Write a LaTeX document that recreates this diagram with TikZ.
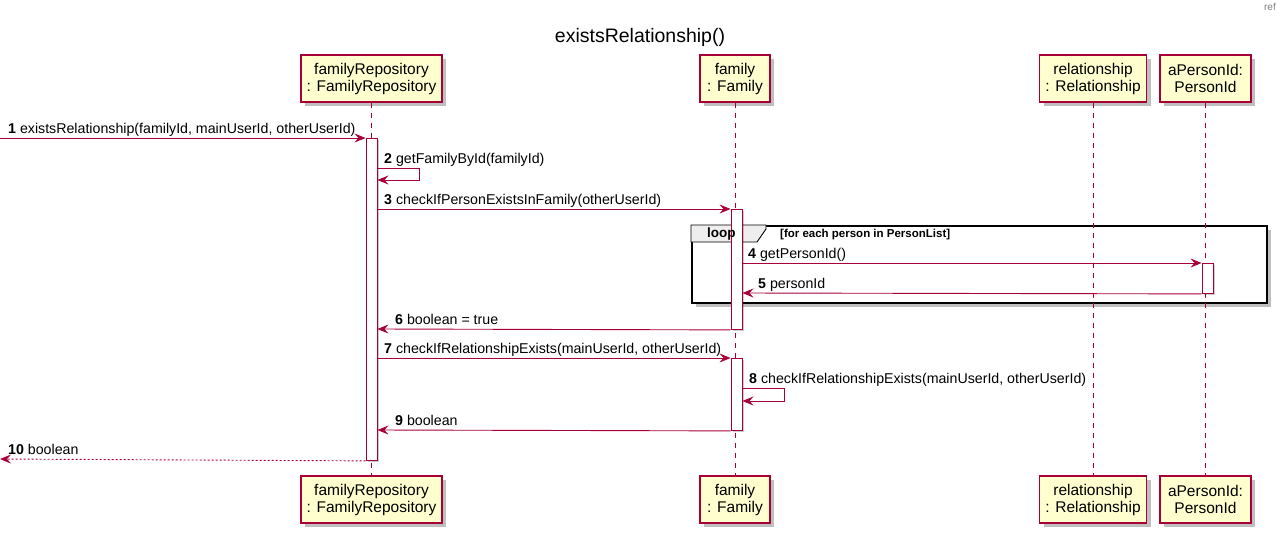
\documentclass[tikz,border=0pt]{standalone}
\usepackage{fontspec}
\setmainfont{Liberation Sans}
\usetikzlibrary{arrows.meta,shadows,calc}
\definecolor{plred}{HTML}{A80036}
\definecolor{plfill}{HTML}{FEFECE}
\definecolor{tabfill}{HTML}{EEEEEE}
\begin{document}
\begin{tikzpicture}[x=1pt,y=-1pt,
  part/.style={draw=plred, fill=plfill, line width=1.1pt, minimum height=47pt,
    align=center, inner sep=0pt, font=\fontsize{15.5}{17}\selectfont,
    drop shadow={shadow xshift=4pt, shadow yshift=-4pt, fill=black, opacity=0.25}},
  lifeline/.style={draw=plred, line width=0.8pt, dash pattern=on 5pt off 5pt},
  act/.style={draw=plred, fill=white, line width=0.9pt, minimum width=11pt, inner sep=0pt, anchor=north,
    drop shadow={shadow xshift=2pt, shadow yshift=-2pt, fill=black, opacity=0.2}},
  msg/.style={draw=plred, line width=0.9pt, -{Stealth[length=11pt, width=9pt, inset=4pt]}},
  ret/.style={msg, dash pattern=on 2pt off 2pt},
  lbl/.style={anchor=base west, inner sep=0pt, font=\fontsize{14.2}{16}\selectfont},
  loopframe/.style={draw=black, line width=1.6pt, fill=white, inner sep=0pt, anchor=north west,
    drop shadow={shadow xshift=4pt, shadow yshift=-4pt, fill=black, opacity=0.25}},
]
\useasboundingbox (0,0) rectangle (1280,536);
\fill[white] (0,0) rectangle (1280,536);

% title and corner mark
\node[font=\fontsize{19.5}{22}\selectfont] (title) at (640,37) {existsRelationship()};
\node[anchor=north east, text=gray, font=\fontsize{10}{11}\selectfont, inner sep=0pt] (refmark) at (1276,3) {ref};

% loop frame (behind lifelines)
\node[loopframe, minimum width=575pt, minimum height=77pt] (loop) at (691,225) {};

% participants (top)
\node[part, minimum width=141pt] (frT) at (371.5,78.5) {familyRepository\\: FamilyRepository};
\node[part, minimum width=70pt] (faT) at (735,78.5) {family\\: Family};
\node[part, minimum width=107pt] (reT) at (1093,78.5) {relationship\\: Relationship};
\node[part, minimum width=91pt] (apT) at (1205.5,78.5) {aPersonId:\\PersonId};
% participants (bottom)
\node[part, minimum width=141pt] (frB) at (371.5,499.5) {familyRepository\\: FamilyRepository};
\node[part, minimum width=70pt] (faB) at (735,499.5) {family\\: Family};
\node[part, minimum width=107pt] (reB) at (1093,499.5) {relationship\\: Relationship};
\node[part, minimum width=91pt] (apB) at (1205.5,499.5) {aPersonId:\\PersonId};

% lifelines
\draw[lifeline] (frT.south) -- (frB.north);
\draw[lifeline] (faT.south) -- (faB.north);
\draw[lifeline] (reT.south) -- (reB.north);
\draw[lifeline] (apT.south) -- (apB.north);

% loop tab
\draw[fill=tabfill, draw=black, line width=0.9pt] (loop.north west) -- ++(75,0) -- ++(0,4) -- ++(-9,13) -- ($(loop.north west)+(0,17)$) -- cycle;

% activation bars
\node[act, minimum height=322pt] (a1) at (371.5,138) {};
\node[act, minimum height=120pt] (a2) at (736.5,209) {};
\node[act, minimum height=72pt] (a3) at (736.5,358) {};
\node[act, minimum height=30pt] (a4) at (1207.5,263) {};

% loop texts
\node[anchor=base west, inner sep=0pt, font=\bfseries\fontsize{13.5}{15}\selectfont] (looplbl) at (707,237) {loop};
\node[anchor=base west, inner sep=0pt, font=\bfseries\fontsize{11.5}{13}\selectfont] (loopcond) at (780,237) {[for each person in PersonList]};

% row helpers
\coordinate (r1) at (0,138);
\coordinate (r2) at (0,168);
\coordinate (r2b) at (0,180);
\coordinate (r3) at (0,209);
\coordinate (r4) at (0,263);
\coordinate (r5) at (0,293);
\coordinate (r6) at (0,329);
\coordinate (r7) at (0,358);
\coordinate (r8) at (0,388);
\coordinate (r8b) at (0,401);
\coordinate (r9) at (0,430);
\coordinate (r10) at (0,459);

% messages
\draw[msg] (r1) -- (a1.north west);
\node[lbl] (l1) at (8,133) {\textbf{1} existsRelationship(familyId, mainUserId, otherUserId)};

\draw[msg] (a1.east |- r2) -- ++(42,0) |- (a1.east |- r2b);
\node[lbl] (l2) at (384,163) {\textbf{2} getFamilyById(familyId)};

\draw[msg] (a1.east |- r3) -- (a2.north west);
\node[lbl] (l3) at (384,204) {\textbf{3} checkIfPersonExistsInFamily(otherUserId)};

\draw[msg] (a2.east |- r4) -- (a4.north west);
\node[lbl] (l4) at (748,258) {\textbf{4} getPersonId()};

\draw[msg] (a4.south west) -- (a2.east |- r5);
\node[lbl] (l5) at (758,288) {\textbf{5} personId};

\draw[msg] (a2.south west) -- (a1.east |- r6);
\node[lbl] (l6) at (395,324) {\textbf{6} boolean = true};

\draw[msg] (a1.east |- r7) -- (a3.north west);
\node[lbl] (l7) at (384,353) {\textbf{7} checkIfRelationshipExists(mainUserId, otherUserId)};

\draw[msg] (a3.east |- r8) -- ++(42,0) |- (a3.east |- r8b);
\node[lbl] (l8) at (749,383) {\textbf{8} checkIfRelationshipExists(mainUserId, otherUserId)};

\draw[msg] (a3.south west) -- (a1.east |- r9);
\node[lbl] (l9) at (395,425) {\textbf{9} boolean};

\draw[ret] (a1.south west) -- (r10);
\node[lbl] (l10) at (8,454) {\textbf{10} boolean};
\end{tikzpicture}
\end{document}
